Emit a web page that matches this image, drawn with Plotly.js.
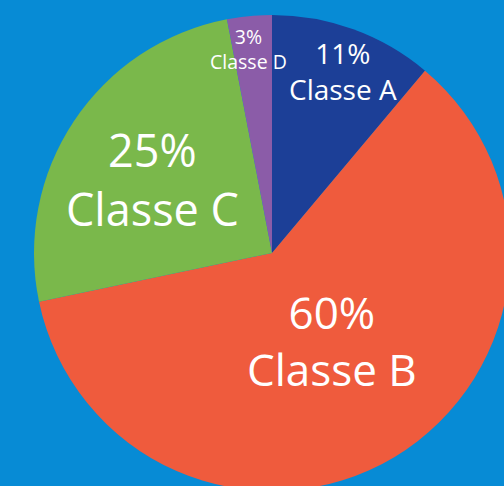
<!DOCTYPE html>
<html>
<head>
<meta charset="utf-8">
<script src="https://cdn.plot.ly/plotly-3.0.1.min.js"></script>
<style>
  html, body { margin: 0; padding: 0; overflow: hidden; background: #078bd5; }
  #chart { position: absolute; left: 0; top: 0; width: 520px; height: 500px; }
</style>
</head>
<body>
<div id="chart"></div>
<script>
// Data
const categories = ['Classe A', 'Classe B', 'Classe C', 'Classe D'];
const values = [11, 60, 25, 3];
const colors = ['#1c3f97', '#ef5b3d', '#7ab84b', '#8b5ca8'];

// Label layout (pixel centre of the two-line label block, font size)
const W = 520, H = 500;
const labelStyle = [
  { x: 343, y: 71,  size: 28 },
  { x: 332, y: 340, size: 44 },
  { x: 152, y: 179, size: 45 },
  { x: 248, y: 49,  size: 19.5 }
];

const FONT = '"Open Sans", "Noto Sans", sans-serif';
const annotations = categories.map((c, i) => {
  const s = labelStyle[i];
  return {
    text: values[i] + '%<br>' + c, xref: 'paper', yref: 'paper',
    x: s.x / W, y: 1 - s.y / H, xanchor: 'center', yanchor: 'middle',
    align: 'center', showarrow: false,
    font: { family: FONT, size: s.size, color: '#ffffff' }
  };
});

const trace = {
  type: 'pie',
  labels: categories,
  values: values,
  sort: false,
  direction: 'clockwise',
  rotation: 0,
  marker: { colors: colors, line: { width: 0 } },
  textinfo: 'none',
  hoverinfo: 'label+value',
  domain: { x: [34 / W, 510 / W], y: [1 - 491 / H, 1 - 15 / H] }
};

const layout = {
  width: W, height: H,
  margin: { l: 0, r: 0, t: 0, b: 0 },
  paper_bgcolor: '#078bd5',
  plot_bgcolor: '#078bd5',
  showlegend: false,
  annotations: annotations
};

Plotly.newPlot('chart', [trace], layout, { displayModeBar: false, staticPlot: true });
</script>
</body>
</html>
